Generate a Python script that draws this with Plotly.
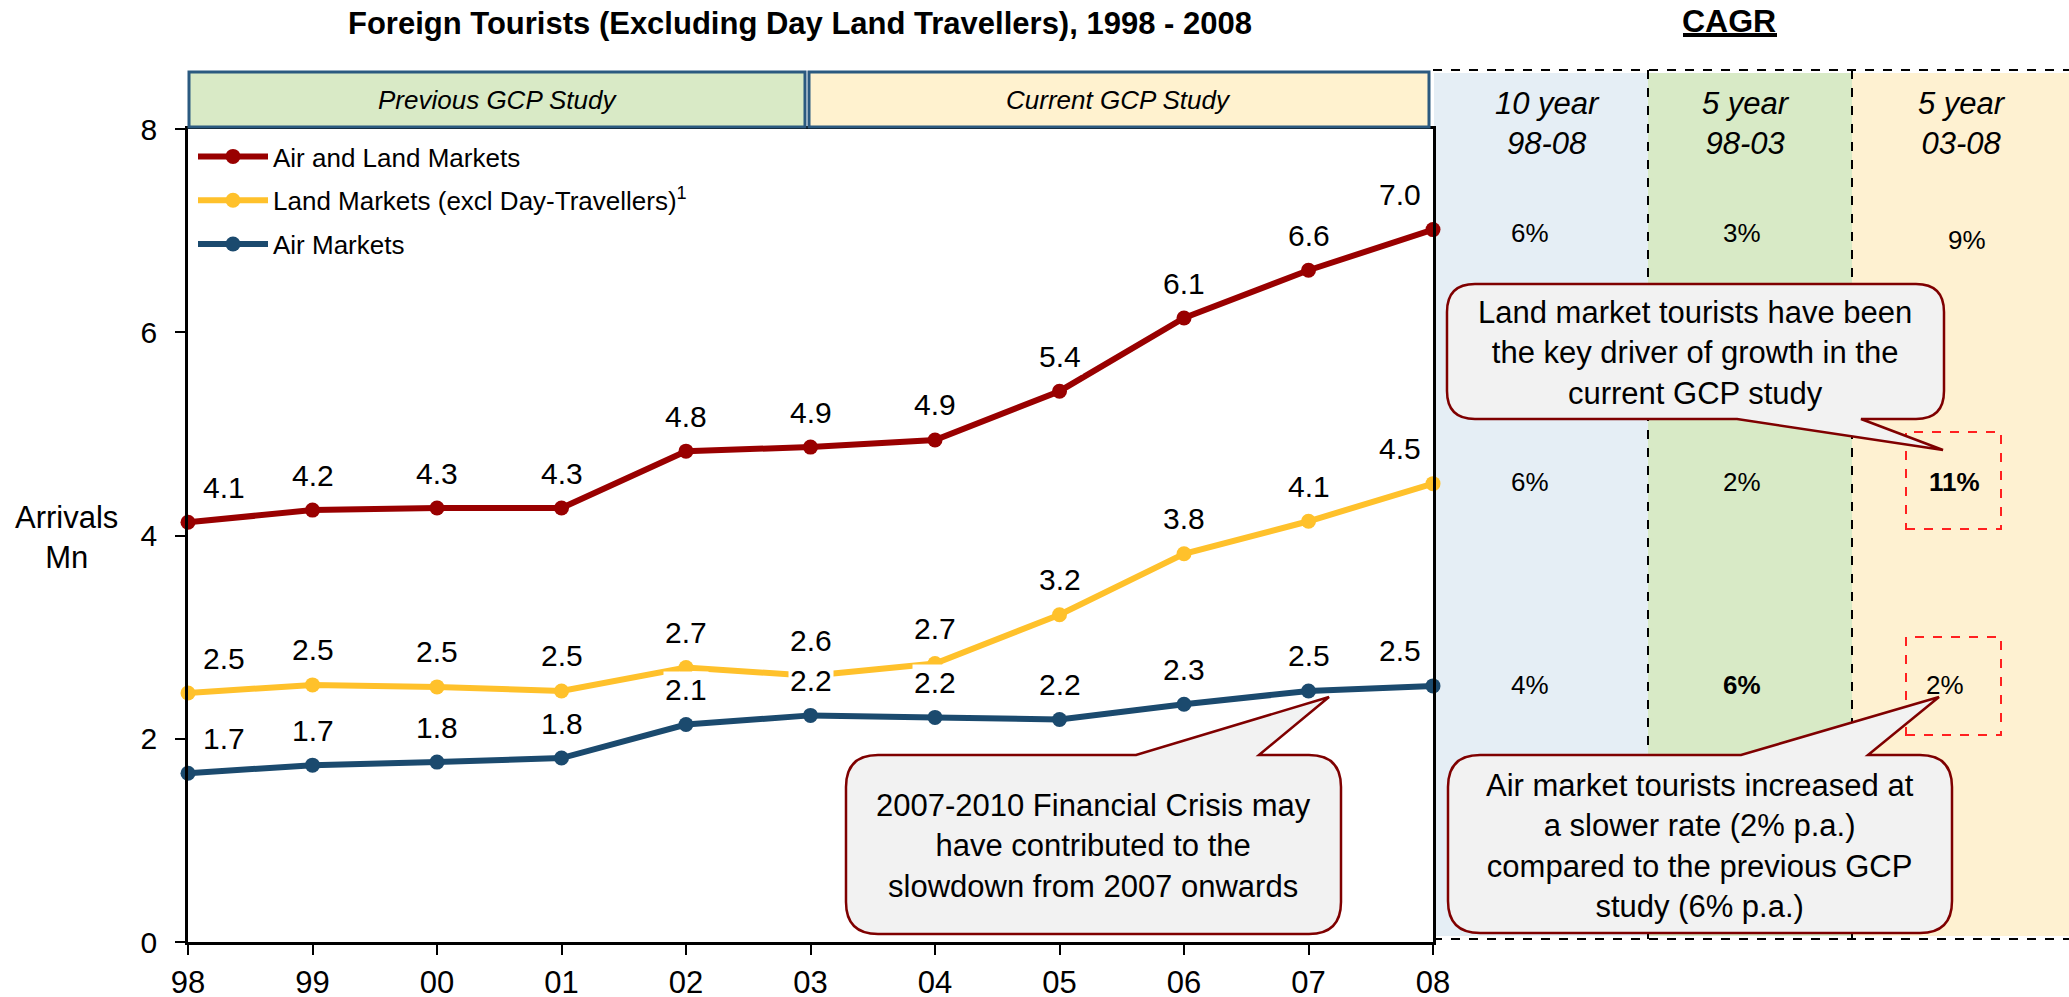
import plotly.graph_objects as go

# ---------------- data ----------------
years = ['98', '99', '00', '01', '02', '03', '04', '05', '06', '07', '08']
air_land = [4.13, 4.25, 4.27, 4.27, 4.83, 4.87, 4.94, 5.42, 6.14, 6.61, 7.01]
land = [2.45, 2.53, 2.51, 2.47, 2.70, 2.62, 2.74, 3.22, 3.82, 4.14, 4.51]
air = [1.66, 1.74, 1.77, 1.81, 2.14, 2.23, 2.21, 2.19, 2.34, 2.47, 2.52]

series_names = ['Air and Land Markets', 'Land Markets (excl Day-Travellers)<sup>1</sup>', 'Air Markets']
series_colors = ['#990000', '#FFC12B', '#1B4A6E']

cagr_headers = ['<i>10 year<br>98-08</i>', '<i>5 year<br>98-03</i>', '<i>5 year<br>03-08</i>']
cagr_air_land = ['6%', '3%', '9%']
cagr_land = ['6%', '2%', '<b>11%</b>']
cagr_air = ['4%', '<b>6%</b>', '2%']

FONT = 'Arial, Liberation Sans, sans-serif'

# ---------------- geometry helpers (layout only) ----------------
W, H = 2069, 997
L, R, T, B = 188, 1433, 129, 942


def px(x):
    return (x - L) / (R - L)


def py(y):
    return (B - y) / (B - T)


def P(x, y):
    return f'{px(x):.5f},{py(y):.5f}'


def callout_path(x0, y0, x1, y1, r, edge, b0, b1, tip):
    tx, ty = tip
    parts = [f'M{P(x0 + r, y0)}']
    if edge == 'top':
        parts += [f'L{P(b0, y0)}', f'L{P(tx, ty)}', f'L{P(b1, y0)}']
    parts += [f'L{P(x1 - r, y0)}', f'Q{P(x1, y0)} {P(x1, y0 + r)}',
              f'L{P(x1, y1 - r)}', f'Q{P(x1, y1)} {P(x1 - r, y1)}']
    if edge == 'bottom':
        parts += [f'L{P(b1, y1)}', f'L{P(tx, ty)}', f'L{P(b0, y1)}']
    parts += [f'L{P(x0 + r, y1)}', f'Q{P(x0, y1)} {P(x0, y1 - r)}',
              f'L{P(x0, y0 + r)}', f'Q{P(x0, y0)} {P(x0 + r, y0)}', 'Z']
    return ' '.join(parts)


def txt(x, y, text, size, **kw):
    d = dict(x=px(x), y=py(y), xref='paper', yref='paper', showarrow=False,
             xanchor='center', yanchor='middle', text=text,
             font=dict(family=FONT, size=size, color='black'))
    d.update(kw)
    return d


fig = go.Figure()

all_series = [air_land, land, air]
for k, (name, vals, col) in enumerate(zip(series_names, all_series, series_colors)):
    fig.add_trace(go.Scatter(
        x=years, y=vals, name=name, mode='lines+markers',
        line=dict(color=col, width=6),
        marker=dict(color=col, size=15),
        cliponaxis=False, legendgroup=f'g{k}',
    ))

annotations = []
# data labels (x given as category index)
for vals in all_series:
    n = len(vals)
    for j, v in enumerate(vals):
        xs = 36 if j == 0 else (-33 if j == n - 1 else 0)
        annotations.append(dict(
            x=j, y=v, xref='x', yref='y', text=f'{v:.1f}', showarrow=False,
            xanchor='center', yanchor='middle',
            yshift=35, xshift=xs, font=dict(family=FONT, size=30, color='black'),
            bgcolor='white', borderpad=1,
        ))

# titles
annotations.append(txt(800, 24, '<b>Foreign Tourists (Excluding Day Land Travellers), 1998 - 2008</b>', 31))
annotations.append(txt(1729, 21, '<b>CAGR</b>', 32))
annotations.append(txt(67, 537, 'Arrivals<br>Mn', 31))

# study header boxes text
annotations.append(txt(497, 100, '<i>Previous GCP Study</i>', 26))
annotations.append(txt(1118, 100, '<i>Current GCP Study</i>', 26))

# CAGR table
hdr_x = [1547, 1746, 1962]
for hx, ht in zip(hdr_x, cagr_headers):
    annotations.append(txt(hx, 123, ht, 31))
row_specs = [
    (cagr_air_land, [1530, 1742, 1967], [233, 233, 240]),
    (cagr_land, [1530, 1742, 1954], [482, 482, 482]),
    (cagr_air, [1530, 1742, 1945], [685, 685, 685]),
]
for texts, xs_, ys_ in row_specs:
    for t, cx, cy in zip(texts, xs_, ys_):
        annotations.append(txt(cx, cy, t, 26))

# callout texts
annotations.append(txt(1093, 846, '2007-2010 Financial Crisis may<br>have contributed to the<br>slowdown from 2007 onwards', 31))
annotations.append(txt(1695, 353, 'Land market tourists have been<br>the key driver of growth in the<br>current GCP study', 31))
annotations.append(txt(1700, 846, 'Air market tourists increased at<br>a slower rate (2% p.a.)<br>compared to the previous GCP<br>study (6% p.a.)', 31))

shapes = []


def rect(x0, y0, x1, y1, **kw):
    d = dict(type='rect', xref='paper', yref='paper', x0=px(x0), x1=px(x1), y0=py(y1), y1=py(y0))
    d.update(kw)
    shapes.append(d)


def line(x0, y0, x1, y1, **kw):
    d = dict(type='line', xref='paper', yref='paper', x0=px(x0), x1=px(x1), y0=py(y0), y1=py(y1))
    d.update(kw)
    shapes.append(d)


# CAGR column backgrounds
rect(1434, 73, 1648, 936, fillcolor='#E5EEF5', line=dict(width=0), layer='below')
rect(1648, 73, 1852, 936, fillcolor='#D8EAC6', line=dict(width=0), layer='below')
rect(1852, 73, 2069, 936, fillcolor='#FEF1D1', line=dict(width=0), layer='below')
# dashed frame lines
dash = dict(color='black', width=2, dash='dash')
line(1433, 70, 2069, 70, line=dash)
line(1433, 939, 2069, 939, line=dash)
line(1648, 70, 1648, 939, line=dash)
line(1852, 70, 1852, 939, line=dash)
# study header boxes
rect(189, 72, 805, 127, fillcolor='#D9EAC6', line=dict(color='#2B5A80', width=3))
rect(809, 72, 1429, 127, fillcolor='#FFF2CF', line=dict(color='#2B5A80', width=3))
# CAGR underline
line(1683, 35, 1777, 35, line=dict(color='black', width=4))
# highlight boxes
red_dash = dict(color='#FF2020', width=2, dash='dash')
rect(1906, 432, 2001, 529, line=red_dash)
rect(1906, 637, 2001, 735, line=red_dash)
# callouts
co_style = dict(fillcolor='#F2F2F2', line=dict(color='#7F0000', width=2.5), layer='above')
shapes.append(dict(type='path', xref='paper', yref='paper',
                   path=callout_path(846, 755, 1341, 934, 32, 'top', 1136, 1259, (1329, 697)), **co_style))
shapes.append(dict(type='path', xref='paper', yref='paper',
                   path=callout_path(1447, 284, 1944, 419, 28, 'bottom', 1737, 1861, (1943, 450)), **co_style))
shapes.append(dict(type='path', xref='paper', yref='paper',
                   path=callout_path(1448, 755, 1952, 933, 32, 'top', 1741, 1868, (1939, 697)), **co_style))

fig.update_layout(
    width=W, height=H,
    margin=dict(l=L, r=W - R, t=T, b=H - B, pad=0, autoexpand=False),
    paper_bgcolor='white', plot_bgcolor='white',
    font=dict(family=FONT, color='black'),
    showlegend=True,
    legend=dict(x=px(193), y=py(133), xanchor='left', yanchor='top',
                font=dict(family=FONT, size=26, color='black'),
                bgcolor='rgba(0,0,0,0)', itemwidth=70, tracegroupgap=7),
    annotations=annotations,
    shapes=shapes,
    xaxis=dict(type='category', range=[0, 10], showgrid=False, zeroline=False,
               showline=True, linecolor='black', linewidth=2.5, mirror=True,
               ticks='outside', ticklen=10, tickwidth=2, tickcolor='black',
               ticklabelstandoff=1,
               tickfont=dict(family=FONT, size=31, color='black')),
    yaxis=dict(range=[0, 8], tickvals=[0, 2, 4, 6, 8], showgrid=False, zeroline=False,
               showline=True, linecolor='black', linewidth=2.5, mirror=True,
               ticks='outside', ticklen=10, tickwidth=2, tickcolor='black',
               ticklabelstandoff=12,
               tickfont=dict(family=FONT, size=30, color='black')),
)

fig.write_html('out.html', config={'displayModeBar': False},
               post_script="document.body.style.margin='0';document.body.style.overflow='hidden';")
